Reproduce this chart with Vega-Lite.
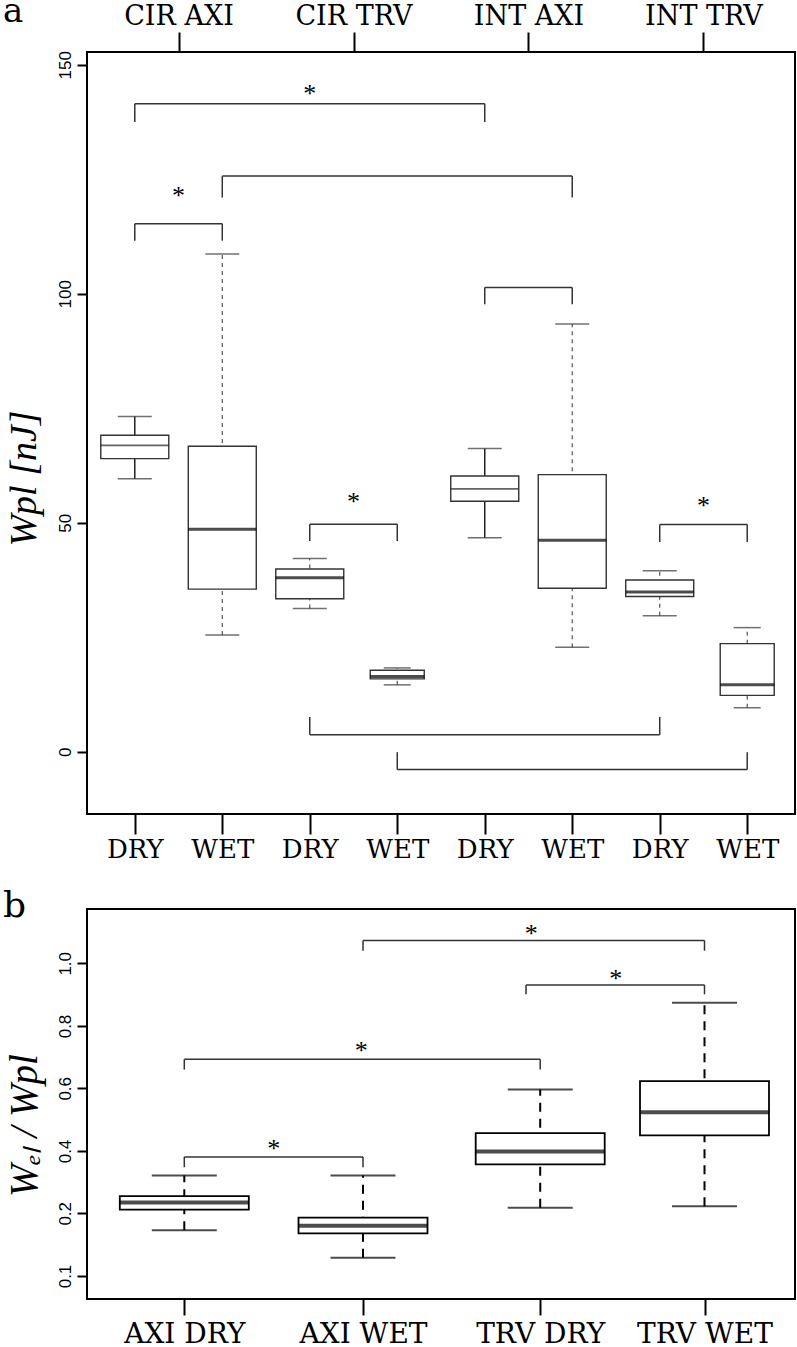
{
  "$schema": "https://vega.github.io/schema/vega-lite/v6.json",
  "autosize": {"type": "pad"},
  "padding": {"left": 2, "top": -6, "right": 0, "bottom": 0},
  "background": "white",
  "spacing": 95,
  "bounds": "flush",
  "datasets": {
    "boxA": [
      {"grp": "CIR AXI DRY", "idx": 1, "lower": 59.6, "q1": 64.0, "median": 66.9, "q3": 69.1, "upper": 73.2},
      {"grp": "CIR AXI WET", "idx": 2, "lower": 25.5, "q1": 35.5, "median": 48.6, "q3": 66.7, "upper": 108.7},
      {"grp": "CIR TRV DRY", "idx": 3, "lower": 31.3, "q1": 33.4, "median": 38.0, "q3": 39.9, "upper": 42.2},
      {"grp": "CIR TRV WET", "idx": 4, "lower": 14.6, "q1": 15.9, "median": 16.4, "q3": 17.8, "upper": 18.3},
      {"grp": "INT AXI DRY", "idx": 5, "lower": 46.7, "q1": 54.7, "median": 57.4, "q3": 60.2, "upper": 66.2},
      {"grp": "INT AXI WET", "idx": 6, "lower": 22.8, "q1": 35.7, "median": 46.2, "q3": 60.5, "upper": 93.4},
      {"grp": "INT TRV DRY", "idx": 7, "lower": 29.7, "q1": 33.9, "median": 34.9, "q3": 37.5, "upper": 39.5},
      {"grp": "INT TRV WET", "idx": 8, "lower": 9.6, "q1": 12.3, "median": 14.6, "q3": 23.6, "upper": 27.1}
    ],
    "brA": [
      {"x1": 1, "x2": 5, "y": 141.5, "leg": 137.5, "xs": 3, "ys": 145, "sig": "*"},
      {"x1": 2, "x2": 6, "y": 125.7, "leg": 121, "xs": 4, "ys": 130, "sig": ""},
      {"x1": 1, "x2": 2, "y": 115.3, "leg": 111.6, "xs": 1.5, "ys": 122.7, "sig": "*"},
      {"x1": 5, "x2": 6, "y": 101.4, "leg": 97.7, "xs": 5.5, "ys": 105, "sig": ""},
      {"x1": 3, "x2": 4, "y": 49.7, "leg": 46, "xs": 3.5, "ys": 55.9, "sig": "*"},
      {"x1": 7, "x2": 8, "y": 49.6, "leg": 45.8, "xs": 7.5, "ys": 55, "sig": "*"},
      {"x1": 3, "x2": 7, "y": 3.7, "leg": 7.6, "xs": 5, "ys": 0, "sig": ""},
      {"x1": 4, "x2": 8, "y": -3.9, "leg": -0.1, "xs": 6, "ys": 0, "sig": ""}
    ],
    "boxB": [
      {"grp": "AXI DRY", "idx": 1, "lower": 0.173, "q1": 0.212, "median": 0.235, "q3": 0.255, "upper": 0.321},
      {"grp": "AXI WET", "idx": 2, "lower": 0.129, "q1": 0.168, "median": 0.180, "q3": 0.193, "upper": 0.321},
      {"grp": "TRV DRY", "idx": 3, "lower": 0.218, "q1": 0.357, "median": 0.398, "q3": 0.457, "upper": 0.596},
      {"grp": "TRV WET", "idx": 4, "lower": 0.223, "q1": 0.450, "median": 0.524, "q3": 0.623, "upper": 0.874}
    ],
    "brB": [
      {"x1": 1, "x2": 2, "y": 0.381, "leg": 0.348, "xs": 1.5, "ys": 0.424, "sig": "*"},
      {"x1": 1, "x2": 3, "y": 0.693, "leg": 0.66, "xs": 1.99, "ys": 0.738, "sig": "*"},
      {"x1": 2, "x2": 4, "y": 1.073, "leg": 1.04, "xs": 2.95, "ys": 1.114, "sig": "*"},
      {"x1": 2.92, "x2": 4, "y": 0.931, "leg": 0.901, "xs": 3.46, "ys": 0.969, "sig": "*"}
    ]
  },
  "vconcat": [
    {
      "width": 708,
      "height": 762,
      "title": {"text": "a", "anchor": "start", "frame": "group", "font": "DejaVu Serif", "fontSize": 34, "fontWeight": "normal", "color": "black", "dx": -84, "dy": 31},
      "resolve": {"axis": {"x": "independent"}},
      "layer": [
        {
          "data": {"name": "boxA"},
          "transform": [{"filter": {"not": {"field": "grp", "oneOf": ["CIR AXI DRY", "INT AXI DRY"]}}}],
          "mark": {"type": "rule", "color": "#555", "strokeWidth": 1.2, "strokeDash": [4, 4]},
          "encoding": {
            "x": {"field": "idx", "type": "quantitative", "scale": {"domain": [0.511, 8.489], "nice": false, "zero": false}, "axis": null},
            "y": {"field": "lower", "type": "quantitative", "scale": {"domain": [-13.6, 152.8], "nice": false, "zero": false},
                  "axis": {"values": [0, 50, 100, 150], "title": "Wpl [nJ]", "labelAngle": 270, "labelAlign": "center", "labelBaseline": "bottom", "labelFont": "Liberation Sans", "labelFontSize": 17, "labelPadding": 3, "tickSize": 10,
                           "titleFont": "Liberation Serif", "titleFontStyle": "italic", "titleFontSize": 38, "titleAngle": 270, "titleAlign": "center", "titleBaseline": "middle", "titleX": -63, "titleY": 426}},
            "y2": {"field": "upper"}
          }
        },
        {
          "data": {"name": "boxA"},
          "transform": [{"filter": {"field": "grp", "oneOf": ["CIR AXI DRY", "INT AXI DRY"]}}],
          "mark": {"type": "rule", "color": "#222", "strokeWidth": 1.5},
          "encoding": {
            "x": {"field": "idx", "type": "quantitative", "axis": null},
            "y": {"field": "lower", "type": "quantitative"},
            "y2": {"field": "upper"}
          }
        },
        {
          "data": {"name": "boxA"},
          "transform": [{"filter": {"not": {"field": "grp", "oneOf": ["CIR TRV WET", "INT TRV WET"]}}}],
          "mark": {"type": "bar", "size": 68, "fill": "white", "stroke": "#333", "strokeWidth": 1.4},
          "encoding": {
            "x": {"field": "idx", "type": "quantitative",
                  "axis": {"orient": "bottom", "values": [1, 2, 3, 4, 5, 6, 7, 8], "labelExpr": "datum.value % 2 == 1 ? 'DRY' : 'WET'", "title": null, "tickSize": 20, "labelPadding": 2, "labelFont": "DejaVu Serif", "labelFontSize": 26, "labelAngle": 0, "labelAlign": "center", "labelBaseline": "top", "labelFlush": false, "labelOverlap": false}},
            "y": {"field": "q1", "type": "quantitative"},
            "y2": {"field": "q3"}
          }
        },
        {
          "data": {"name": "boxA"},
          "transform": [{"filter": {"field": "grp", "oneOf": ["CIR TRV WET", "INT TRV WET"]}}],
          "mark": {"type": "bar", "size": 54, "fill": "white", "stroke": "#333", "strokeWidth": 1.4},
          "encoding": {
            "x": {"field": "idx", "type": "quantitative", "axis": null},
            "y": {"field": "q1", "type": "quantitative"},
            "y2": {"field": "q3"}
          }
        },
        {
          "data": {"name": "boxA"},
          "transform": [{"filter": {"not": {"field": "grp", "oneOf": ["CIR TRV WET", "INT TRV WET"]}}}, {"fold": ["lower", "upper"], "as": ["k", "v"]}],
          "mark": {"type": "tick", "orient": "horizontal", "size": 34, "thickness": 1.5, "color": "#333"},
          "encoding": {
            "x": {"field": "idx", "type": "quantitative", "axis": null},
            "y": {"field": "v", "type": "quantitative"}
          }
        },
        {
          "data": {"name": "boxA"},
          "transform": [{"filter": {"field": "grp", "oneOf": ["CIR TRV WET", "INT TRV WET"]}}, {"fold": ["lower", "upper"], "as": ["k", "v"]}],
          "mark": {"type": "tick", "orient": "horizontal", "size": 27, "thickness": 1.5, "color": "#333"},
          "encoding": {
            "x": {"field": "idx", "type": "quantitative", "axis": null},
            "y": {"field": "v", "type": "quantitative"}
          }
        },
        {
          "data": {"name": "boxA"},
          "transform": [{"filter": {"field": "grp", "oneOf": ["CIR AXI DRY", "INT AXI DRY"]}}],
          "mark": {"type": "tick", "orient": "horizontal", "size": 68, "thickness": 1.6, "color": "#222"},
          "encoding": {
            "x": {"field": "idx", "type": "quantitative", "axis": null},
            "y": {"field": "median", "type": "quantitative"}
          }
        },
        {
          "data": {"name": "boxA"},
          "transform": [{"filter": {"field": "grp", "oneOf": ["CIR AXI WET", "CIR TRV DRY", "INT AXI WET", "INT TRV DRY"]}}],
          "mark": {"type": "tick", "orient": "horizontal", "size": 68, "thickness": 3, "color": "black"},
          "encoding": {
            "x": {"field": "idx", "type": "quantitative", "axis": null},
            "y": {"field": "median", "type": "quantitative"}
          }
        },
        {
          "data": {"name": "boxA"},
          "transform": [{"filter": {"field": "grp", "oneOf": ["CIR TRV WET", "INT TRV WET"]}}],
          "mark": {"type": "tick", "orient": "horizontal", "size": 54, "thickness": 3, "color": "black"},
          "encoding": {
            "x": {"field": "idx", "type": "quantitative", "axis": null},
            "y": {"field": "median", "type": "quantitative"}
          }
        },
        {
          "data": {"name": "brA"},
          "mark": {"type": "rule", "color": "#333", "strokeWidth": 1.5},
          "encoding": {
            "x": {"field": "x1", "type": "quantitative",
                  "axis": {"orient": "top", "values": [1.5, 3.5, 5.5, 7.5], "labelExpr": "['CIR AXI','CIR TRV','INT AXI','INT TRV'][(datum.value - 1.5) / 2]", "title": null, "tickSize": 20, "labelPadding": 2, "labelFont": "DejaVu Serif", "labelFontSize": 27, "labelAngle": 0, "labelAlign": "center", "labelBaseline": "bottom", "labelFlush": false, "labelOverlap": false}},
            "x2": {"field": "x2"},
            "y": {"field": "y", "type": "quantitative"}
          }
        },
        {
          "data": {"name": "brA"},
          "mark": {"type": "rule", "color": "#333", "strokeWidth": 1.5},
          "encoding": {
            "x": {"field": "x1", "type": "quantitative", "axis": null},
            "y": {"field": "y", "type": "quantitative"},
            "y2": {"field": "leg"}
          }
        },
        {
          "data": {"name": "brA"},
          "mark": {"type": "rule", "color": "#333", "strokeWidth": 1.5},
          "encoding": {
            "x": {"field": "x2", "type": "quantitative", "axis": null},
            "y": {"field": "y", "type": "quantitative"},
            "y2": {"field": "leg"}
          }
        },
        {
          "data": {"name": "brA"},
          "transform": [{"filter": "datum.sig != ''"}],
          "mark": {"type": "text", "font": "Liberation Serif", "fontSize": 26, "color": "black", "baseline": "alphabetic", "align": "center", "dy": 14},
          "encoding": {
            "x": {"field": "xs", "type": "quantitative", "axis": null},
            "y": {"field": "ys", "type": "quantitative"},
            "text": {"field": "sig"}
          }
        }
      ]
    },
    {
      "width": 708,
      "height": 390,
      "title": {"text": "b", "anchor": "start", "frame": "group", "font": "DejaVu Serif", "fontSize": 36, "fontWeight": "normal", "color": "black", "dx": -84, "dy": 20},
      "resolve": {"axis": {"x": "independent"}},
      "layer": [
        {
          "data": {"name": "boxB"},
          "mark": {"type": "rule", "color": "black", "strokeWidth": 2, "strokeDash": [9, 7]},
          "encoding": {
            "x": {"field": "idx", "type": "quantitative", "scale": {"domain": [0.455, 1, 2, 3, 4, 4.551], "range": [0, 97.3, 276, 453.2, 617.5, 708], "nice": false, "zero": false}, "axis": null},
            "y": {"field": "lower", "type": "quantitative", "scale": {"domain": [0.0367, 0.1, 0.2, 0.4, 0.6, 0.8, 1.0, 1.173], "range": [390, 367, 304.3, 242, 179.3, 117, 54.3, 0], "nice": false, "zero": false},
                  "axis": {"values": [0.1, 0.2, 0.4, 0.6, 0.8, 1.0], "format": ".1f", "title": "Wₑₗ / Wpl", "labelAngle": 270, "labelAlign": "center", "labelBaseline": "bottom", "labelFont": "Liberation Sans", "labelFontSize": 17, "labelPadding": 3, "tickSize": 10,
                           "titleFont": "Liberation Serif", "titleFontStyle": "italic", "titleFontSize": 39, "titleAngle": 270, "titleAlign": "center", "titleBaseline": "middle", "titleX": -63, "titleY": 216}},
            "y2": {"field": "upper"}
          }
        },
        {
          "data": {"name": "boxB"},
          "mark": {"type": "bar", "size": 129, "fill": "white", "stroke": "black", "strokeWidth": 1.8},
          "encoding": {
            "x": {"field": "idx", "type": "quantitative",
                  "axis": {"orient": "bottom", "values": [1, 2, 3, 4], "labelExpr": "['AXI DRY','AXI WET','TRV DRY','TRV WET'][datum.value - 1]", "title": null, "tickSize": 16, "labelPadding": 5, "labelFont": "DejaVu Serif", "labelFontSize": 28, "labelAngle": 0, "labelAlign": "center", "labelBaseline": "top", "labelFlush": false, "labelOverlap": false}},
            "y": {"field": "q1", "type": "quantitative"},
            "y2": {"field": "q3"}
          }
        },
        {
          "data": {"name": "boxB"},
          "transform": [{"fold": ["lower", "upper"], "as": ["k", "v"]}],
          "mark": {"type": "tick", "orient": "horizontal", "size": 65, "thickness": 2, "color": "black"},
          "encoding": {
            "x": {"field": "idx", "type": "quantitative", "axis": null},
            "y": {"field": "v", "type": "quantitative"}
          }
        },
        {
          "data": {"name": "boxB"},
          "mark": {"type": "tick", "orient": "horizontal", "size": 129, "thickness": 4, "color": "black"},
          "encoding": {
            "x": {"field": "idx", "type": "quantitative", "axis": null},
            "y": {"field": "median", "type": "quantitative"}
          }
        },
        {
          "data": {"name": "brB"},
          "mark": {"type": "rule", "color": "#333", "strokeWidth": 1.5},
          "encoding": {
            "x": {"field": "x1", "type": "quantitative", "axis": null},
            "x2": {"field": "x2"},
            "y": {"field": "y", "type": "quantitative"}
          }
        },
        {
          "data": {"name": "brB"},
          "mark": {"type": "rule", "color": "#333", "strokeWidth": 1.5},
          "encoding": {
            "x": {"field": "x1", "type": "quantitative", "axis": null},
            "y": {"field": "y", "type": "quantitative"},
            "y2": {"field": "leg"}
          }
        },
        {
          "data": {"name": "brB"},
          "mark": {"type": "rule", "color": "#333", "strokeWidth": 1.5},
          "encoding": {
            "x": {"field": "x2", "type": "quantitative", "axis": null},
            "y": {"field": "y", "type": "quantitative"},
            "y2": {"field": "leg"}
          }
        },
        {
          "data": {"name": "brB"},
          "mark": {"type": "text", "font": "Liberation Serif", "fontSize": 26, "color": "black", "baseline": "alphabetic", "align": "center", "dy": 14},
          "encoding": {
            "x": {"field": "xs", "type": "quantitative", "axis": null},
            "y": {"field": "ys", "type": "quantitative"},
            "text": {"field": "sig"}
          }
        }
      ]
    }
  ],
  "config": {
    "view": {"stroke": "black", "strokeWidth": 2},
    "axis": {"domain": false, "grid": false, "ticks": true, "tickColor": "black", "tickWidth": 2, "labelColor": "black", "titleColor": "black", "titleFontWeight": "normal"},
    "title": {"offset": 4}
  }
}
